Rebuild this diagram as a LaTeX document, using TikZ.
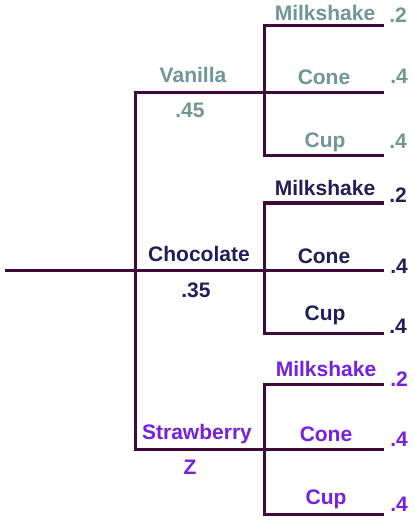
\documentclass[tikz,border=0pt]{standalone}
\usepackage{fontspec}
\setmainfont{Liberation Sans}
\definecolor{vanillac}{RGB}{112,150,150}
\definecolor{chococ}{RGB}{34,30,92}
\definecolor{strawc}{RGB}{118,32,228}
\definecolor{branchc}{RGB}{62,10,58}
\tikzset{
  branch/.style={draw=branchc,line width=3pt,line cap=rect},
  lbl/.style={font=\fontsize{21}{25}\selectfont\bfseries,inner sep=0pt,anchor=base}
}
\begin{document}
\begin{tikzpicture}[x=1pt,y=-1pt]
    \useasboundingbox[fill=white] (0,0) rectangle (413,521);
    \def\xa{135}
    \def\xb{264}
    \def\xc{382}
    % branch points
    \coordinate (A0_0) at (6,270);
    \coordinate (A1_0) at (\xa,270);
    \coordinate (A1_1) at (\xa,93);
    \coordinate (A1_2) at (\xa,270);
    \coordinate (A1_3) at (\xa,449);
    \coordinate (A2_1) at (\xb,93);
    \coordinate (A2_2) at (\xb,270);
    \coordinate (A2_3) at (\xb,449);
    % leaves
    \coordinate (A3_1) at (\xc,26);
    \coordinate (A3_2) at (\xc,93);
    \coordinate (A3_3) at (\xc,156);
    \coordinate (A3_4) at (\xc,203);
    \coordinate (A3_5) at (\xc,270);
    \coordinate (A3_6) at (\xc,333);
    \coordinate (A3_7) at (\xc,384);
    \coordinate (A3_8) at (\xc,449);
    \coordinate (A3_9) at (\xc,514);
    \path (A0_0) edge [branch] (A1_0);
    \path (A1_1) edge [branch] (A1_3);
    \path (A1_1) edge [branch] (A2_1);
    \path (A1_2) edge [branch] (A2_2);
    \path (A1_3) edge [branch] (A2_3);
    \path (A2_1) edge [branch] (A2_1 |- A3_1);
    \path (A2_1) edge [branch] (A2_1 |- A3_3);
    \path (A2_2) edge [branch] (A2_2 |- A3_4);
    \path (A2_2) edge [branch] (A2_2 |- A3_6);
    \path (A2_3) edge [branch] (A2_3 |- A3_7);
    \path (A2_3) edge [branch] (A2_3 |- A3_9);
    \foreach \i/\j in {1/1,1/2,1/3,2/4,2/5,2/6,3/7,3/8,3/9}
      \path (A2_\i |- A3_\j) edge [branch] (A3_\j);
    % labels, vanilla
    \node [lbl,text=vanillac] (L1) at (193,83) {Vanilla};
    \node [lbl,text=vanillac] (P1) at (190,118) {.45};
    \node [lbl,text=vanillac] (L1_1) at (325,21) {Milkshake};
    \node [lbl,text=vanillac] (L1_2) at (324,85) {Cone};
    \node [lbl,text=vanillac] (L1_3) at (325,148) {Cup};
    \node [lbl,text=vanillac] (P1_1) at (398,23) {.2};
    \node [lbl,text=vanillac] (P1_2) at (399,84) {.4};
    \node [lbl,text=vanillac] (P1_3) at (398,149) {.4};
    % labels, chocolate
    \node [lbl,text=chococ] (L2) at (199,261) {Chocolate};
    \node [lbl,text=chococ] (P2) at (196,297) {.35};
    \node [lbl,text=chococ] (L2_1) at (325,196) {Milkshake};
    \node [lbl,text=chococ] (L2_2) at (324,263) {Cone};
    \node [lbl,text=chococ] (L2_3) at (325,320) {Cup};
    \node [lbl,text=chococ] (P2_1) at (398,203) {.2};
    \node [lbl,text=chococ] (P2_2) at (399,273) {.4};
    \node [lbl,text=chococ] (P2_3) at (398,333) {.4};
    % labels, strawberry
    \node [lbl,text=strawc] (L3) at (197,439) {Strawberry};
    \node [lbl,text=strawc] (P3) at (190,474) {Z};
    \node [lbl,text=strawc] (L3_1) at (326,376) {Milkshake};
    \node [lbl,text=strawc] (L3_2) at (326,441) {Cone};
    \node [lbl,text=strawc] (L3_3) at (326,504) {Cup};
    \node [lbl,text=strawc] (P3_1) at (399,386) {.2};
    \node [lbl,text=strawc] (P3_2) at (399,446) {.4};
    \node [lbl,text=strawc] (P3_3) at (399,511) {.4};
  \end{tikzpicture}
\end{document}
